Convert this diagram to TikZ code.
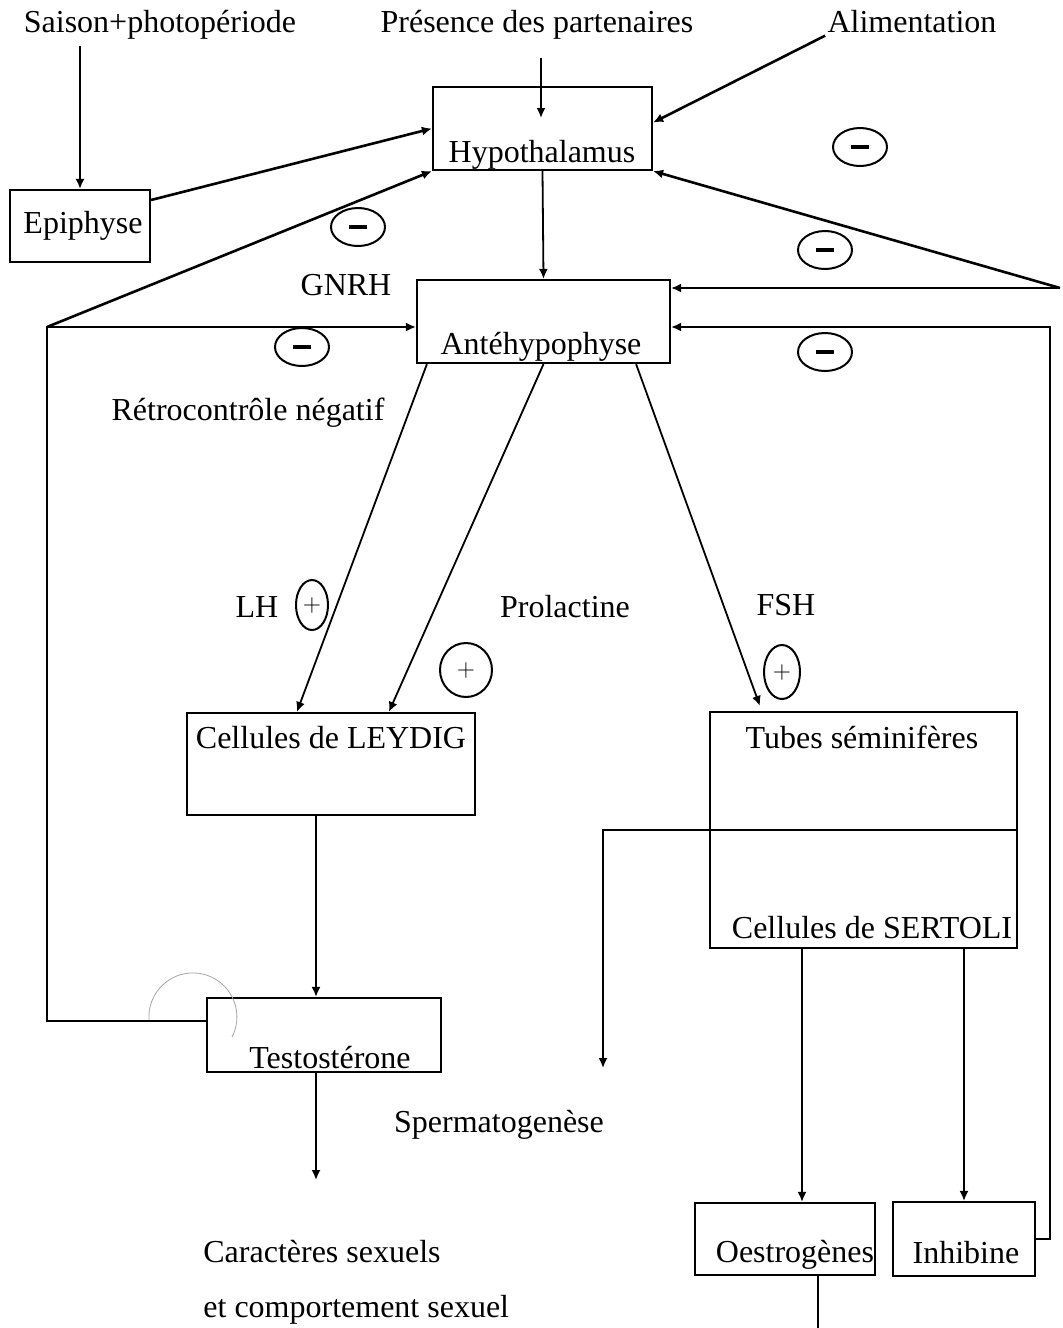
\documentclass[tikz,border=0pt]{standalone}
\usepackage{fontspec}
\setmainfont{Liberation Serif}
\usepackage{tikz}
\usetikzlibrary{shapes,arrows.meta}
\tikzstyle{bx}=[draw=black,line width=1.1pt,inner sep=0pt]
\tikzstyle{txt}=[font=\fontsize{16pt}{19pt}\selectfont,inner sep=1pt]
\tikzstyle{fl}=[->,>={Latex[length=5pt,width=4.5pt]},line width=.9pt]
\tikzstyle{fb}=[->,>={Latex[length=5pt,width=4.5pt]},line width=1.3pt]
\tikzstyle{moins}=[ellipse,draw=black,line width=1pt,minimum width=27pt,minimum height=19pt,inner sep=0pt]
\tikzstyle{plus}=[ellipse,draw=black,line width=1pt,inner sep=0pt,font=\fontsize{12pt}{14pt}\selectfont]

\begin{document}
\begin{tikzpicture}[x=.5pt,y=-.5pt]
\fill[white] (0,0) rectangle (1062,1328);
\useasboundingbox (0,0) rectangle (1062,1328);
% entrees
\node[txt] (sais) at (160,25) {Saison+photopériode};
\node[txt] (pres) at (537,25) {Présence des partenaires};
\node[txt] (alim) at (912,22) {Alimentation};
% boites
\node[bx,minimum width=70pt,minimum height=36pt,txt] (epi) at (80,226) {\hspace{3pt}Epiphyse};
\node[bx,minimum width=109.5pt,minimum height=41.5pt] (hypo) at (542.5,128.5) {};
\node[txt] (hypot) at (542,155) {Hypothalamus};
\node[bx,minimum width=126.5pt,minimum height=41.5pt] (ante) at (543.5,321.5) {};
\node[txt] (antet) at (541,347) {Antéhypophyse};
\node[bx,minimum width=144pt,minimum height=51pt] (leydig) at (331,764) {};
\node[txt] (leydigt) at (331,738) {Cellules de LEYDIG};
\node[bx,minimum width=153.5pt,minimum height=118pt] (tubes) at (863.5,830) {};
\node[txt] (tubest) at (862,737) {Tubes séminifères};
\node[txt] (sertt) at (872,928) {Cellules de SERTOLI};
\node[bx,minimum width=117pt,minimum height=37pt] (testo) at (324,1035) {};
\node[txt] (testot) at (330,1058) {Testostérone};
\node[bx,minimum width=90pt,minimum height=36pt] (oestro) at (785,1239) {};
\node[txt] (oestrot) at (795,1255) {Oestrogènes};
\node[bx,minimum width=71pt,minimum height=37pt] (inhib) at (964,1239) {};
\node[txt] (inhibt) at (966,1253) {Inhibine};
% etiquettes
\node[txt] (gnrh) at (346,285) {GNRH};
\node[txt] (retro) at (248,413) {Rétrocontrôle négatif};
\node[txt] (lh) at (257,607) {LH};
\node[txt] (prol) at (565,607) {Prolactine};
\node[txt] (fsh) at (786,605) {FSH};
\node[txt] (sperm) at (499,1125) {Spermatogenèse};
\node[txt,align=left,anchor=west] (caract) at (201,1282) {Caractères sexuels\\[8.5pt]et comportement sexuel};
% signes
\node[moins] (m1) at (358,227) {\rule{9pt}{1.6pt}};
\node[moins] (m2) at (302,347) {\rule{9pt}{1.6pt}};
\node[moins] (m3) at (860,147) {\rule{9pt}{1.6pt}};
\node[moins] (m4) at (825,250) {\rule{9pt}{1.6pt}};
\node[moins] (m5) at (825,352) {\rule{9pt}{1.6pt}};
\node[plus,minimum width=16pt,minimum height=25pt] (p1) at (312,605) {$+$};
\node[plus,minimum width=26pt,minimum height=27pt] (p2) at (466,670) {$+$};
\node[plus,minimum width=18pt,minimum height=27pt] (p3) at (782,672) {$+$};
% points libres
\coordinate (presend) at (541,118);
\coordinate (fbL) at (47,327);
\coordinate (fbR) at (1060,288);
\coordinate (fbI) at (1050,327);
\coordinate (spend) at (603,1068);
\coordinate (caend) at (316,1180);
\coordinate (oeend) at (818,1330);
% fleches
\draw[fl] (epi.north |- sais.south) ++(0,4) -- (epi.north);
\draw[fl] (pres.south -| presend) ++(0,16) -- (presend);
\draw[fb] (alim.south west) -- ([yshift=3pt]hypo.east);
\draw[fb] ([yshift=13pt]epi.east) -- (hypo.west);
\draw[fl] (hypo.south) -- (ante.north);
\draw[fb] (fbL) -- (hypo.south west);
\draw[fb] (fbR) -- (hypo.south east);
\draw[fl] (fbR) -- (fbR -| ante.east);
\draw[fl] ([yshift=7pt]testo.west) -| (fbL) -- (fbL -| ante.west);
\draw[fl] (inhib.east) -| (fbI) -- (fbI -| ante.east);
\draw[fl] ([xshift=5.5pt]ante.south west) -- ([xshift=55.5pt]leydig.north west);
\draw[fl] (ante.south) -- ([xshift=101.5pt]leydig.north west);
\draw[fl] ([xshift=-17.5pt]ante.south east) -- ([xshift=25.5pt,yshift=2.5pt]tubes.north west);
\draw[line width=1.1pt] (tubes.west) -- (tubes.east);
\draw[fl] (tubes.west) -| (spend);
\draw[fl] (leydig.south -| caend) -- (testo.north -| caend);
\draw[fl] (testo.south -| caend) -- (caend);
\draw[fl] (tubes.south -| 802,0) -- (oestro.north -| 802,0);
\draw[fl] (inhib.north |- tubes.south) -- (inhib.north);
\draw[line width=.9pt] (oestro.south -| oeend) -- (oeend);
% trace gris
\draw[gray!70,line width=.4pt] (149,1020) arc[start angle=184,end angle=-27,radius=22pt];
\end{tikzpicture}
\end{document}
